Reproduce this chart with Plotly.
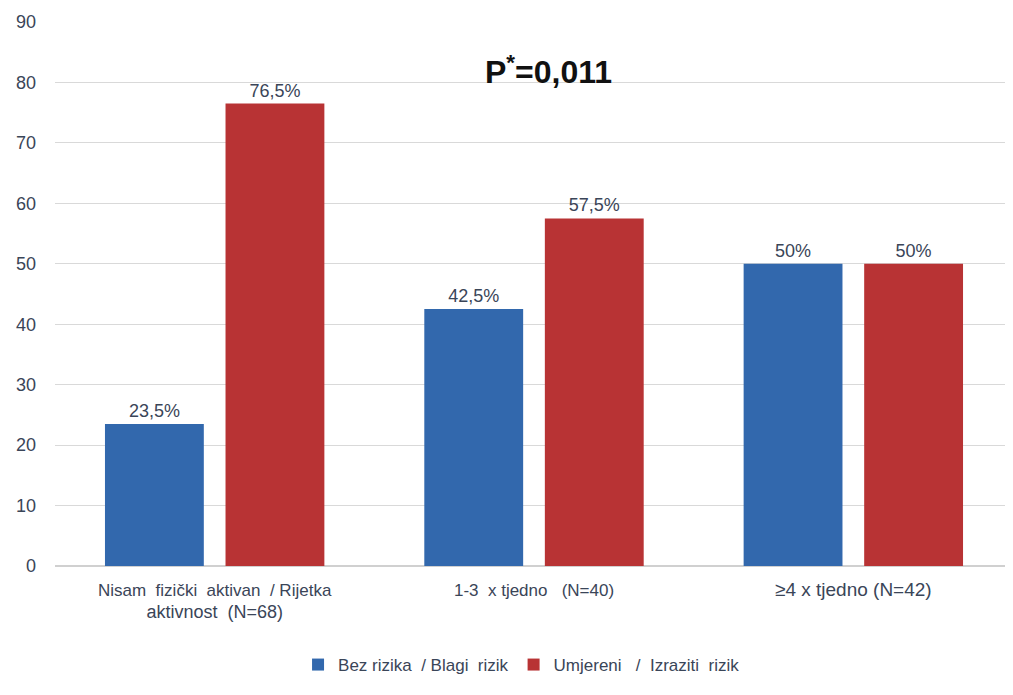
import plotly.graph_objects as go

categories = ["Nisam  fizički  aktivan  / Rijetka<br><span style='font-size:18px'>aktivnost  (N=68)</span>",
              "1-3  x tjedno   (N=40)",
              "<span style='font-size:19px'>≥4 x tjedno (N=42)</span>"]
series_names = ["Bez rizika  / Blagi  rizik", "Umjereni   /  Izraziti  rizik"]
bez_rizika = [23.5, 42.5, 50]
umjereni = [76.5, 57.5, 50]
y_ticks = [0, 10, 20, 30, 40, 50, 60, 70, 80, 90]
title_text = "<b>P<sup>*</sup>=0,011</b>"

def fmt(v):
    return f"{v:g}".replace(".", ",") + "%"

FONT = "Liberation Sans Narrow, Liberation Sans, Arial, sans-serif"
TXT = "#3a4558"

fig = go.Figure()
fig.add_trace(go.Bar(
    x=categories, y=bez_rizika, name=series_names[0],
    marker=dict(color="#3268ad", line=dict(width=0)),
    text=[fmt(v) for v in bez_rizika], textposition="outside",
    textfont=dict(size=18, color=TXT, family=FONT), cliponaxis=False,
))
fig.add_trace(go.Bar(
    x=categories, y=umjereni, name=series_names[1],
    marker=dict(color="#b83334", line=dict(width=0)),
    text=[fmt(v) for v in umjereni], textposition="outside",
    textfont=dict(size=18, color=TXT, family=FONT), cliponaxis=False,
))

fig.add_annotation(
    text=title_text, x=0.515, xref="paper", y=82, yref="y",
    showarrow=False, font=dict(size=32, color="#111111", family=FONT),
)

fig.update_layout(
    width=1005, height=687,
    margin=dict(l=47, r=0, t=14, b=129, autoexpand=False),
    paper_bgcolor="#ffffff", plot_bgcolor="#ffffff",
    barmode="group", bargap=0.245, bargroupgap=0.18,
    font=dict(family=FONT, color=TXT, size=16),
    showlegend=True,
    legend=dict(orientation="h", x=0.487, xanchor="center", y=-0.182, yanchor="middle",
                font=dict(size=17, color=TXT, family=FONT), traceorder="normal",
                itemwidth=30),
    xaxis=dict(showgrid=False, showline=False, ticks="", automargin=False,
               ticklabelstandoff=12,
               tickfont=dict(size=17, color=TXT, family=FONT)),
    yaxis=dict(range=[0, 90], tickvals=y_ticks, showgrid=True, gridcolor="#d9d9d9",
               gridwidth=1, zeroline=True, zerolinecolor="#d0d0d0", showline=False,
               ticks="", ticklabelstandoff=18, automargin=False,
               tickfont=dict(size=18, color=TXT, family=FONT)),
)

fig.write_html("out.html")
